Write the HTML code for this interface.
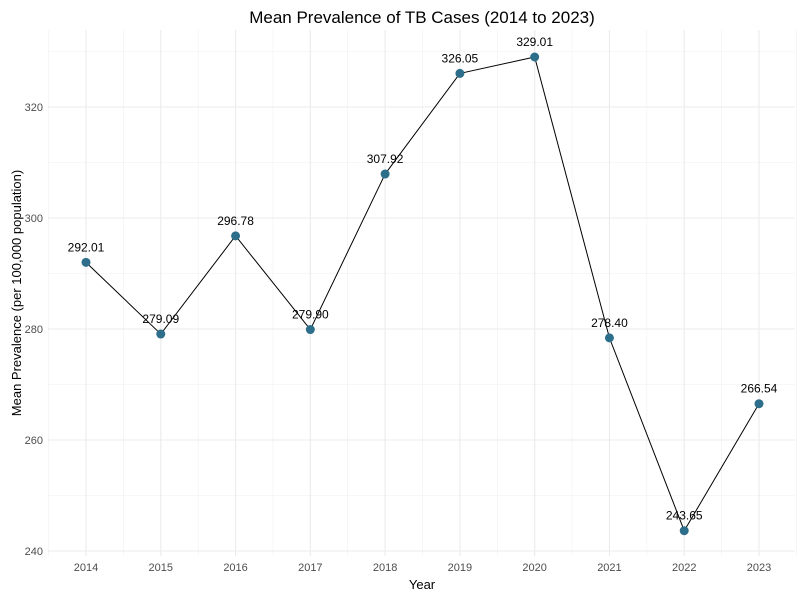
<!DOCTYPE html>
<html><head><meta charset="utf-8"><style>
body{margin:0;background:#fff;font-family:"Liberation Sans",sans-serif}
</style></head><body>
<svg id="c" width="800" height="600" xmlns="http://www.w3.org/2000/svg"></svg>
<script>
const years=[2014,2015,2016,2017,2018,2019,2020,2021,2022,2023];
const values=[292.01,279.09,296.78,279.90,307.92,326.05,329.01,278.40,243.65,266.54];
const valueLabels=["292.01","279.09","296.78","279.90","307.92","326.05","329.01","278.40","243.65","266.54"];
const yTicks=[240,260,280,300,320];
const yMinor=[250,270,290,310,330];
const svg=document.getElementById('c');
const NS='http://www.w3.org/2000/svg';
const x=v=>86+(v-2014)*(759-86)/9;
const y=v=>551-(v-240)*(551-107)/80;
const L=48,R=795,T=30,B=556;
function mk(t,a,txt){const e=document.createElementNS(NS,t);for(const k in a)e.setAttribute(k,a[k]);if(txt!==undefined)e.textContent=txt;svg.appendChild(e);return e;}
// minor grids
yMinor.forEach(v=>{const e=mk('line',{x1:L,x2:R,y1:y(v),y2:y(v),stroke:'#f0f0f0','stroke-width':0.6});

});
for(let i=0;i<years.length+1;i++){const xv=x(2013.5+i);const e=mk('line',{x1:xv,x2:xv,y1:T,y2:B,stroke:'#f0f0f0','stroke-width':0.6});

}
yTicks.forEach(v=>{const e=mk('line',{x1:L,x2:R,y1:y(v),y2:y(v),stroke:'#ebebeb','stroke-width':1.1});


const t=mk('text',{x:43,y:y(v)+4,'text-anchor':'end','font-size':11,fill:'#4d4d4d'},v);

});
years.forEach(v=>{const e=mk('line',{x1:x(v),x2:x(v),y1:T,y2:B,stroke:'#ebebeb','stroke-width':1.1});


const t=mk('text',{x:x(v),y:571,'text-anchor':'middle','font-size':11,fill:'#4d4d4d'},v);

});
const pl=mk('polyline',{points:years.map((v,i)=>x(v)+','+y(values[i])).join(' '),fill:'none',stroke:'#000','stroke-width':1});


years.forEach((v,i)=>{const c=mk('circle',{cx:x(v),cy:y(values[i]),r:4.5,fill:'#2d6e8a'});


const t=mk('text',{x:x(v),y:y(values[i])-11,'text-anchor':'middle','font-size':12,fill:'#000'},valueLabels[i]);

});
const ti=mk('text',{x:422,y:23,'text-anchor':'middle','font-size':17,fill:'#000'},'Mean Prevalence of TB Cases (2014 to 2023)');


const xt=mk('text',{x:422,y:589,'text-anchor':'middle','font-size':13,fill:'#000'},'Year');


const yt=mk('text',{x:0,y:0,'text-anchor':'middle','font-size':13,fill:'#000',transform:'translate(21,293) rotate(-90)'},'Mean Prevalence (per 100,000 population)');


</script>
</body></html>
